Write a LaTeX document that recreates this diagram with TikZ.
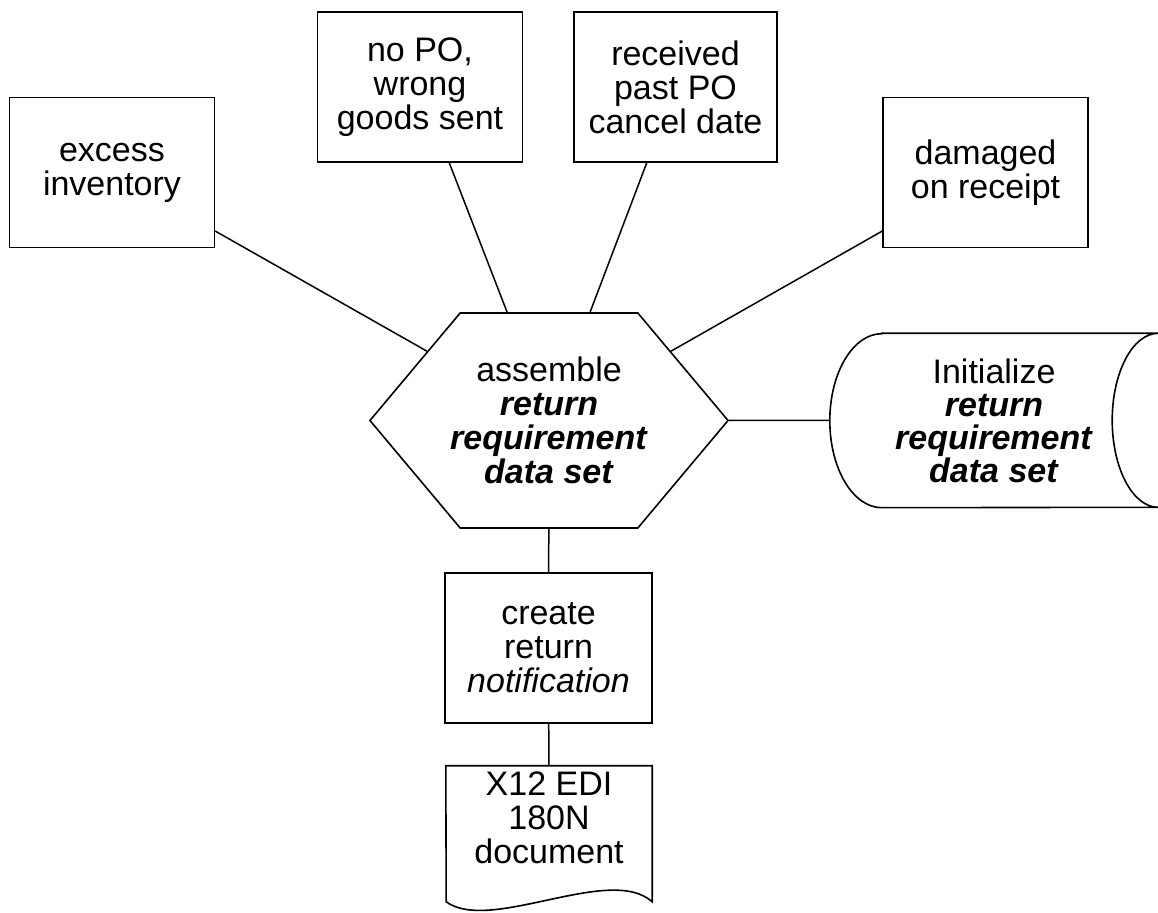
\documentclass[tikz,border=0pt]{standalone}
\usepackage{fontspec}
\setmainfont{Liberation Sans}
\usetikzlibrary{shapes.symbols}
\newcommand{\boldit}[1]{\textbf{\textit{#1}}}
\tikzset{
    x=1pt,
    y=1pt,
    reason/.style={draw,line width=1.6pt,minimum width=205pt,minimum height=150pt,
        align=center,font=\fontsize{34}{34}\selectfont},
    hexa/.style={signal,signal to=west and east,signal pointer angle=100,
        draw,line width=1.6pt,inner xsep=-10pt,minimum height=215pt,
        align=center,font=\fontsize{34}{34}\selectfont},
    link/.style={line width=1.5pt},
}

\begin{document}
\begin{tikzpicture}
    \useasboundingbox (0,0) rectangle (1158,912);
    % reasons for a return
    \node[reason] (excess) at (112,739.5) {excess\\inventory};
    \node[reason] (nopo) at (420,825) {no PO,\\wrong\\goods sent};
    \node[reason,minimum width=203pt] (pastpo) at (675.5,825) {received\\past PO\\cancel date};
    \node[reason] (damaged) at (985.5,739.5) {damaged\\on receipt};
    % assembling step
    \node[hexa] (asm) at (549,491.5)
        {assemble\\\boldit{return}\\\boldit{requirement}\\\boldit{data set}};
    \node[align=center,minimum width=328pt,minimum height=174pt,
        font=\fontsize{34}{33}\selectfont] (init) at (994,491.5)
        {Initialize\\\boldit{return}\\\boldit{requirement}\\\boldit{data set}};
    \draw[line width=1.6pt] ([xshift=52pt]init.north west) -- (init.north east)
        arc[start angle=90,end angle=270,x radius=46pt,y radius=87pt]
        -- ([xshift=52pt]init.south west)
        arc[start angle=270,end angle=90,x radius=52pt,y radius=87pt] -- cycle;
    \node[reason,minimum width=207pt] (notify) at (548.5,264)
        {create\\return\\\textit{notification}};
    \node[align=center,minimum width=206pt,minimum height=104pt,
        font=\fontsize{34}{34}\selectfont] (doc) at (549,94)
        {X12 EDI\\180N\\document};
    \draw[line width=1.6pt] (doc.north west) -- (doc.north east) -- ++(0,-136)
        .. controls +(-42,38) and +(44,-32) .. ++(-206,0) -- cycle;
    % connectors
    \draw[link] (excess) -- (asm);
    \draw[link] (nopo) -- (asm);
    \draw[link] (pastpo) -- (asm);
    \draw[link] (damaged) -- (asm);
    \draw[link] (asm) -- (init);
    \draw[link] (asm) -- (notify);
    \draw[link] (notify) -- (doc);
\end{tikzpicture}
\end{document}
